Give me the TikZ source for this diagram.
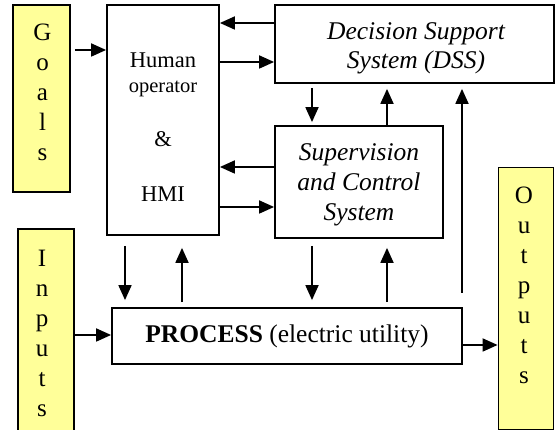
\documentclass[tikz,border=0pt]{standalone}
\usepackage{fontspec}
\setmainfont{Liberation Serif}
\usetikzlibrary{arrows.meta}
\definecolor{paleyellow}{RGB}{255,255,153}
\begin{document}
\begin{tikzpicture}[x=1pt,y=1pt,
        box/.style={draw,line width=1.8pt,fill=white,inner sep=0pt},
        yellowbox/.style={box,fill=paleyellow},
        letters/.style={align=center,inner sep=0pt,font=\fontsize{25}{30}\selectfont},
        label/.style={align=center,inner sep=0pt,font=\fontsize{25.5}{30}\selectfont\itshape},
        arr/.style={line width=1.8pt,-{Triangle[length=15pt,width=13pt]}}]

    \useasboundingbox (0,0) rectangle (555,430);

    \node[yellowbox,minimum width=57,minimum height=187] (goals) at (41.5,331.5) {};
    \node[yellowbox,minimum width=56,minimum height=210] (inputs) at (46,96) {};
    \node[yellowbox,minimum width=55,minimum height=262] (outputs) at (526,131.5) {};
    \node[letters] (goalstext) at (42.5,337.5) {G\\o\\a\\l\\s};
    \node[letters] (inputstext) at (42,96.7) {I\\n\\p\\u\\t\\s};
    \node[letters] (outputstext) at (524,144.2) {O\\u\\t\\p\\u\\t\\s};

    \node[box,minimum width=112,minimum height=230] (hmi) at (163,310) {};
    \node[align=center,inner sep=0pt,font=\fontsize{22.5}{27}\selectfont] (hmitext) at (163,302.5)
        {Human\\[-2pt]{\fontsize{20.5}{25}\selectfont operator}\\[27pt]\&\\[28pt]HMI};

    \node[box,minimum width=279,minimum height=78] (dss) at (414.5,386) {};
    \node[label] (dsstext) at (416,381.5) {Decision Support\\[-1pt]System (DSS)};

    \node[box,minimum width=168,minimum height=112] (scs) at (359,248) {};
    \node[label] (scstext) at (359,245.3) {Supervision\\and Control\\System};

    \node[box,minimum width=350,minimum height=56,font=\fontsize{25.5}{30}\selectfont] (process) at (287,94)
        {\textbf{PROCESS} (electric utility)};

    \coordinate (tap) at (462,137);

    \draw[arr,shorten <=4pt] (goals.east |- 0,380) -- (hmi.west |- 0,380);
    \draw[arr] (dss.west |- 0,407) -- (hmi.east |- 0,407);
    \draw[arr] (hmi.east |- 0,368) -- (dss.west |- 0,368);
    \draw[arr] (scs.west |- 0,263) -- (hmi.east |- 0,263);
    \draw[arr] (hmi.east |- 0,223) -- (scs.west |- 0,223);

    \draw[arr,shorten <=4pt,shorten >=3pt] (dss.south -| 312,0) -- (scs.north -| 312,0);
    \draw[arr,shorten >=5pt] (scs.north -| 387,0) -- (dss.south -| 387,0);
    \draw[arr,shorten >=5pt] (tap) -- (dss.south -| tap);

    \draw[arr,shorten <=10pt,shorten >=7pt] (hmi.south -| 125,0) -- (process.north -| 125,0);
    \draw[arr,shorten <=5pt,shorten >=12pt] (process.north -| 182,0) -- (hmi.south -| 182,0);
    \draw[arr,shorten <=7pt,shorten >=7pt] (scs.south -| 312,0) -- (process.north -| 312,0);
    \draw[arr,shorten <=5pt,shorten >=9pt] (process.north -| 387,0) -- (scs.south -| 387,0);

    \draw[arr] (inputs.east |- 0,95) -- (process.west |- 0,95);
    \draw[arr] (process.east |- 0,85) -- (outputs.west |- 0,85);
\end{tikzpicture}
\end{document}
